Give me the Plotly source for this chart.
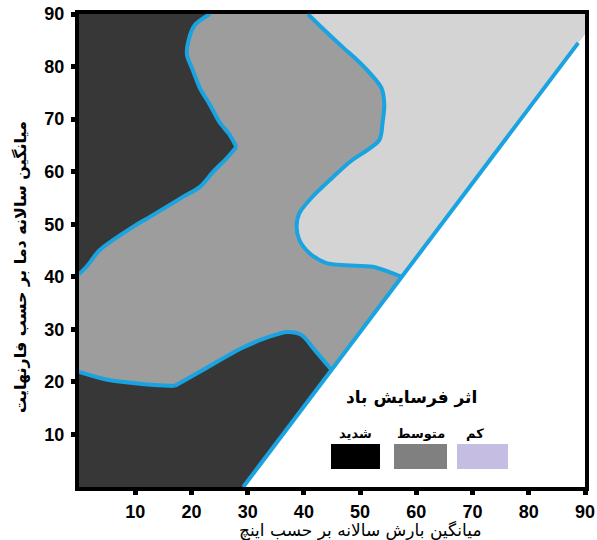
import plotly.graph_objects as go

# ---- data ----
x_ticks = [10, 20, 30, 40, 50, 60, 70, 80, 90]
y_ticks = [10, 20, 30, 40, 50, 60, 70, 80, 90]

# boundary between severe (upper-left) and moderate
upper_bx = [0, 1.4, 3.7, 9.6, 12.6, 18.5, 21.5, 23.8, 26.3, 28.0, 26.8, 25.0, 23.3, 21.5, 20.1, 19.2, 19.4, 20.6, 23.3]
upper_by = [40.5, 42.0, 45.1, 49.5, 51.4, 55.2, 57.1, 59.9, 62.6, 64.7, 67.0, 69.4, 72.7, 75.9, 79.7, 82.2, 84.6, 87.9, 90]

# boundary between moderate and low
light_bx = [40.7, 43.3, 46.9, 49.5, 51.7, 53.8, 54.3, 54.0, 53.4, 48.1, 44.6, 41.5, 39.2, 38.7, 39.2, 41.0, 44.0, 47.6, 52.2, 55.2, 57.4]
light_by = [90, 87.3, 83.7, 81.2, 78.8, 75.9, 72.7, 69.4, 66.0, 61.8, 58.4, 55.2, 52.1, 49.5, 47.0, 44.5, 42.6, 42.2, 41.9, 40.9, 40.0]

# boundary between moderate and severe (lower-left)
lower_bx = [0, 5.1, 11.2, 17.0, 22.9, 28.9, 33.6, 37.1, 39.6, 41.9, 44.9]
lower_by = [21.9, 20.4, 19.6, 19.2, 22.8, 26.4, 28.5, 29.5, 28.9, 26.1, 22.3]

# diagonal limit line
diag_x = [29.2, 88.8]
diag_y = [0, 84.5]

x_min, x_max = 0, 90
y_min, y_max = 0, 90

legend_title = "اثر فرسایش باد"
legend_labels = ["شدید", "متوسط", "کم"]
x_title = "میانگین بارش سالانه بر حسب اینچ"
y_title = "میانگین سالانه دما بر حسب فارنهایت"

# ---- styles ----
DARK = "#373737"
MID = "#9d9d9d"
LIGHT = "#d4d4d4"
BLUE = "#19a3e0"
legend_colors = ["#000000", "#808080", "#c6bee2"]

slope = (diag_y[1] - diag_y[0]) / (diag_x[1] - diag_x[0])
diag_y_at_max = diag_y[0] + slope * (x_max - diag_x[0])

fig = go.Figure()

# upper-left severe region
fig.add_trace(go.Scatter(
    x=[x_min] + upper_bx + [x_min], y=upper_by[:1] + upper_by + [y_max],
    fill="toself", fillcolor=DARK, line=dict(width=0), mode="lines", hoverinfo="skip"))
# lower-left severe region
fig.add_trace(go.Scatter(
    x=[x_min] + lower_bx + [diag_x[0], x_min], y=[y_min] + lower_by + [diag_y[0], y_min],
    fill="toself", fillcolor=DARK, line=dict(width=0), mode="lines", hoverinfo="skip"))
# low region
fig.add_trace(go.Scatter(
    x=light_bx + [x_max, x_max, light_bx[0]], y=light_by + [diag_y_at_max, y_max, light_by[0]],
    fill="toself", fillcolor=LIGHT, line=dict(width=0), mode="lines", hoverinfo="skip"))
# white area below diagonal
fig.add_trace(go.Scatter(
    x=[diag_x[0], x_max, x_max, diag_x[0]], y=[y_min, y_min, diag_y_at_max, y_min],
    fill="toself", fillcolor="white", line=dict(width=0), mode="lines", hoverinfo="skip"))

# blue boundary lines (smoothed pieces, split at the sharp corners)
pieces = [
    (upper_bx[:10], upper_by[:10]), (upper_bx[9:], upper_by[9:]),
    (light_bx, light_by),
    (lower_bx[:4], lower_by[:4]), (lower_bx[3:], lower_by[3:]),
]
for bx, by in pieces:
    fig.add_trace(go.Scatter(x=bx, y=by, mode="lines",
                             line=dict(color=BLUE, width=4, shape="spline", smoothing=0.8),
                             hoverinfo="skip"))
fig.add_trace(go.Scatter(x=diag_x, y=diag_y, mode="lines",
                         line=dict(color=BLUE, width=4), hoverinfo="skip"))

axis_common = dict(
    showgrid=False, zeroline=False, showline=True, linecolor="black", linewidth=4,
    mirror=True, ticks="outside", ticklen=4, tickwidth=5, tickcolor="black", automargin=False,
    ticklabeloverflow="allow",
    tickfont=dict(family="Liberation Sans, Arial", size=18, color="black", weight="bold"),
)
fig.update_xaxes(range=[x_min, x_max], tickvals=x_ticks, ticklabelstandoff=1, **axis_common)
fig.update_yaxes(range=[y_min, y_max], tickvals=y_ticks, ticklabelstandoff=3, **axis_common)

W, H = 597, 540
PL, PR, PT, PB = 79, 585, 14, 487   # plot area in page pixels

def px(xp):
    return (xp - PL) / (PR - PL)

def py(yp):
    return (PB - yp) / (PB - PT)

shapes = []
annotations = []
box_x = [(331, 380), (394, 447), (457, 508)]
label_cx = [355, 421, 475]
for (x0, x1), c, lab, cx in zip(box_x, legend_colors, legend_labels, label_cx):
    shapes.append(dict(type="rect", xref="paper", yref="paper",
                       x0=px(x0), x1=px(x1), y0=py(469), y1=py(444),
                       fillcolor=c, line=dict(width=0)))
    annotations.append(dict(text=lab, xref="paper", yref="paper", x=px(cx), y=py(433),
                            showarrow=False, xanchor="center", yanchor="middle",
                            font=dict(family="DejaVu Sans", size=13, color="black", weight="bold")))
annotations.append(dict(text=legend_title, xref="paper", yref="paper", x=px(411), y=py(397),
                        showarrow=False, xanchor="center", yanchor="middle",
                        font=dict(family="DejaVu Sans", size=17, color="black", weight="bold")))
annotations.append(dict(text=x_title, xref="paper", yref="paper", x=px(360), y=py(530),
                        showarrow=False, xanchor="center", yanchor="middle",
                        font=dict(family="DejaVu Sans", size=17, color="black")))
annotations.append(dict(text=y_title, xref="paper", yref="paper", x=px(20), y=py(267),
                        showarrow=False, xanchor="center", yanchor="middle", textangle=-90,
                        font=dict(family="DejaVu Sans", size=16, color="black", weight="bold")))

fig.update_layout(
    width=W, height=H,
    margin=dict(l=PL, r=W - PR, t=PT, b=H - PB),
    plot_bgcolor=MID, paper_bgcolor="white",
    showlegend=False,
    shapes=shapes, annotations=annotations,
)

fig.write_html("out.html", config={"displayModeBar": False},
               post_script="document.body.style.margin='0';document.body.style.overflow='hidden';")
